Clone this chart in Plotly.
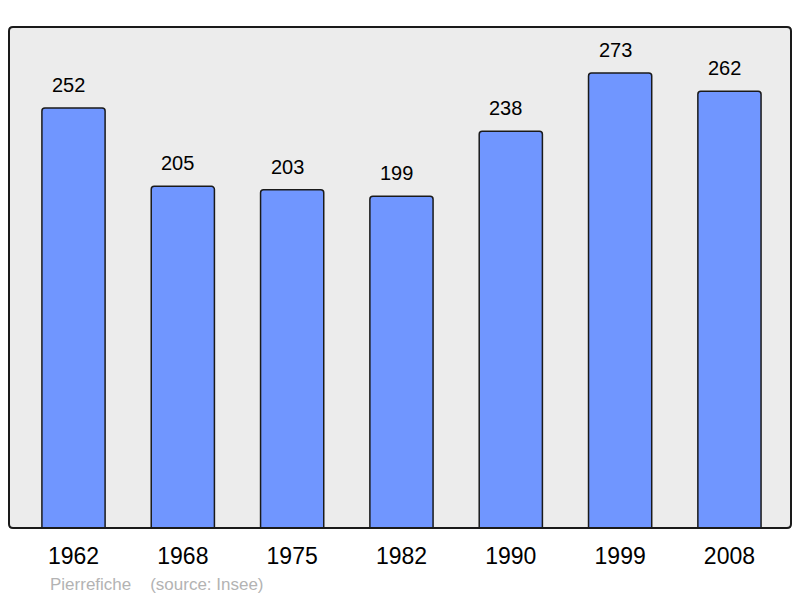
import plotly.graph_objects as go

years = ["1962", "1968", "1975", "1982", "1990", "1999", "2008"]
population = [252, 205, 203, 199, 238, 273, 262]
positions = list(range(len(years)))

fig = go.Figure()
fig.add_trace(go.Bar(
    x=positions, y=population, width=0.578,
    marker=dict(color="#7096ff", line=dict(color="#1a1a1a", width=1.5), cornerradius=3),
    hoverinfo="skip",
))

for xi, v in zip(positions, population):
    fig.add_annotation(x=xi, y=v, text=str(v), showarrow=False, yanchor="bottom",
                       yshift=10, xshift=-5,
                       font=dict(size=20, color="#000000", family="Liberation Sans, Arial"))

fig.add_annotation(xref="paper", yref="paper", x=(40 - 1) / 782, y=-(56) / 501,
                   xanchor="left", yanchor="middle", showarrow=False,
                   text="Pierrefiche&nbsp;&nbsp;&nbsp;&nbsp;(source: Insee)",
                   font=dict(size=17, color="#b3b3b3", family="Liberation Sans, Arial"))

rx, ry = 4 / 782, 4 / 501
path = (f"M {rx},0 L {1-rx},0 Q 1,0 1,{ry} L 1,{1-ry} Q 1,1 {1-rx},1 "
        f"L {rx},1 Q 0,1 0,{1-ry} L 0,{ry} Q 0,0 {rx},0 Z")
fig.add_shape(type="path", xref="paper", yref="paper", path=path,
              line=dict(color="#1a1a1a", width=2), layer="above")

fig.update_layout(
    width=784, height=590,
    margin=dict(l=1, r=1, t=19, b=70),
    plot_bgcolor="#ececec", paper_bgcolor="#ffffff",
    showlegend=False,
    xaxis=dict(range=[-0.59, 6.563], tickmode="array", tickvals=positions, ticktext=years,
               showgrid=False, zeroline=False, showline=False, ticks="",
               tickfont=dict(size=23, color="#000000", family="Liberation Sans, Arial"),
               ticklabelstandoff=12),
    yaxis=dict(range=[0, 300.6], showgrid=False, zeroline=False, showticklabels=False,
               showline=False, ticks=""),
)

fig.write_html("out.html")
